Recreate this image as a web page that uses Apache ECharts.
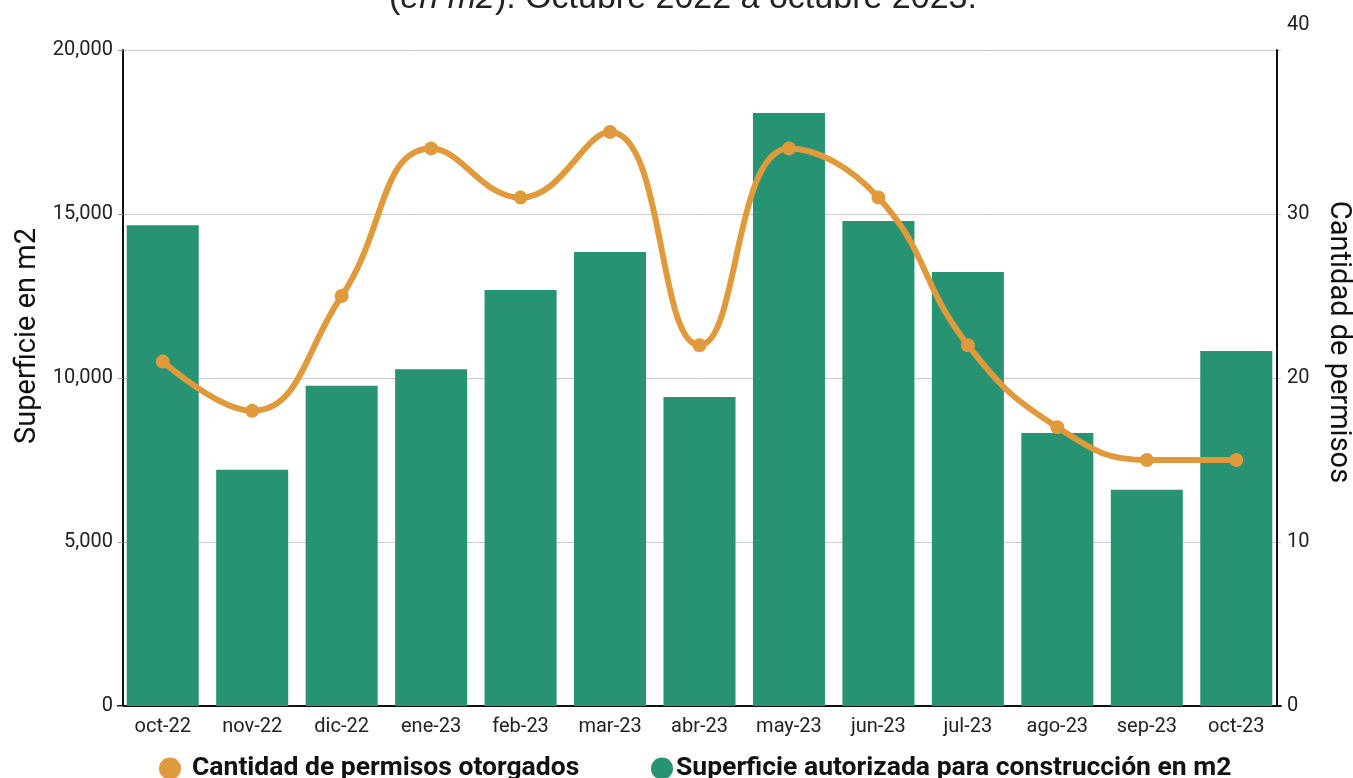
<!DOCTYPE html>
<html>
<head>
<meta charset="utf-8">
<script src="https://cdn.jsdelivr.net/npm/echarts@6/dist/echarts.min.js"></script>
<style>html,body{margin:0;padding:0;background:#fff;}#c{width:1353px;height:778px;}</style>
</head>
<body>
<div id="c"></div>
<script>
const categories = ['oct-22','nov-22','dic-22','ene-23','feb-23','mar-23','abr-23','may-23','jun-23','jul-23','ago-23','sep-23','oct-23'];
const superficie = [14660, 7200, 9760, 10270, 12680, 13840, 9420, 18080, 14790, 13230, 8320, 6590, 10820];
const permisos = [21, 18, 25, 34, 31, 35, 22, 34, 31, 22, 17, 15, 15];
const leftTicks = [0, 5000, 10000, 15000, 20000];
const rightTicks = [0, 10, 20, 30, 40];

const chart = echarts.init(document.getElementById('c'));
const font = 'Roboto';
const legendText = { fontFamily: font, fontSize: 26.5, fontWeight: 'bold', color: '#111' };
chart.setOption({
  animation: false,
  textStyle: { fontFamily: font },
  title: {
    text: '({i|en m2}). Octubre 2022 a octubre 2023.',
    left: 678, textAlign: 'center', top: -23,
    textStyle: {
      fontFamily: 'Liberation Sans', fontSize: 34, fontWeight: 'normal', color: '#222',
      rich: { i: { fontFamily: 'Liberation Sans', fontSize: 34, fontStyle: 'italic', color: '#222' } }
    }
  },
  legend: [
    {
      bottom: -9, left: 154,
      icon: 'circle', itemWidth: 22, itemHeight: 22,
      textStyle: Object.assign({ padding: [0, 0, 0, 6] }, legendText),
      data: ['Cantidad de permisos otorgados']
    },
    {
      bottom: -9, left: 646,
      icon: 'circle', itemWidth: 22, itemHeight: 22,
      textStyle: Object.assign({ padding: [0, 0, 0, -2] }, legendText),
      data: ['Superficie autorizada para construcción en m2']
    }
  ],
  grid: { left: 118, right: 72, top: 50, bottom: 72, outerBoundsMode: 'none', containLabel: false },
  xAxis: {
    type: 'category', data: categories,
    axisLine: { lineStyle: { color: '#111', width: 2 } },
    axisTick: { show: false },
    axisLabel: { fontFamily: font, fontSize: 20, color: '#222', margin: 11 }
  },
  yAxis: [
    {
      type: 'value', min: leftTicks[0], max: leftTicks[leftTicks.length - 1], interval: leftTicks[1] - leftTicks[0],
      offset: -5,
      name: 'Superficie en m2', nameLocation: 'middle', nameGap: 80, nameRotate: 90,
      nameTextStyle: { fontFamily: font, fontSize: 29, color: '#111', padding: [0, 0, 0, 84] },
      axisLine: { show: true, lineStyle: { color: '#111', width: 2 } },
      axisTick: { show: true, length: 5, lineStyle: { color: '#999' } },
      axisLabel: { fontFamily: font, fontSize: 20, color: '#222', margin: 10,
        formatter: v => v.toLocaleString('en-US') },
      splitLine: { show: true, lineStyle: { color: '#cccccc', width: 1 } }
    },
    {
      type: 'value', min: rightTicks[0], max: rightTicks[rightTicks.length - 1], interval: rightTicks[1] - rightTicks[0],
      position: 'right', offset: -4,
      name: 'Cantidad de permisos', nameLocation: 'middle', nameGap: 47, nameRotate: -90,
      nameTextStyle: { fontFamily: font, fontSize: 29, color: '#111', padding: [0, 72, 0, 0] },
      axisLine: { show: true, lineStyle: { color: '#111', width: 2 } },
      axisTick: { show: false },
      axisLabel: { fontFamily: font, fontSize: 20, color: '#222', margin: 10,
        formatter: v => v === 40 ? '{t|40}' : String(v),
        rich: { t: { fontFamily: font, fontSize: 20, color: '#222', padding: [0, 0, 50, 0] } } },
      splitLine: { show: false }
    }
  ],
  series: [
    {
      name: 'Superficie autorizada para construcción en m2',
      type: 'bar', yAxisIndex: 0, data: superficie,
      barWidth: '80.5%',
      itemStyle: { color: '#279372' },
      z: 1
    },
    {
      name: 'Cantidad de permisos otorgados',
      type: 'line', yAxisIndex: 1, data: permisos,
      smooth: 0.45,
      symbol: 'circle', symbolSize: 14,
      lineStyle: { color: '#E09A3B', width: 6 },
      itemStyle: { color: '#E09A3B' },
      z: 3
    }
  ]
});
</script>
</body>
</html>
